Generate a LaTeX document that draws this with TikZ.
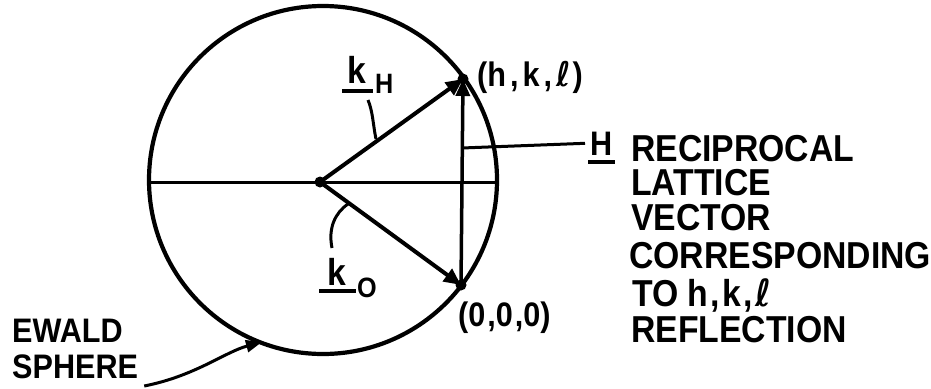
\documentclass[tikz,border=0pt]{standalone}
\usepackage{fontspec}
\setmainfont{Liberation Sans}[FakeStretch=0.9]
\newfontfamily\ellfont{DejaVu Sans}[FakeStretch=0.9]
\usetikzlibrary{arrows.meta}

\begin{document}
\begin{tikzpicture}[x=1pt,y=-1pt,
  lbl/.style={inner sep=0pt, anchor=base west, font=\fontsize{37.5}{37.5}\selectfont\bfseries},
  smlbl/.style={inner sep=0pt, anchor=base west, font=\fontsize{34}{34}\selectfont\bfseries},
  sublbl/.style={inner sep=0pt, anchor=base west, font=\fontsize{28}{28}\selectfont\bfseries},
  vecarrow/.style={line width=4pt, -{Triangle[length=17pt,width=15pt]}},
  harrow/.style={line width=3.5pt, -{Triangle[length=17pt,width=14pt]}},
  leader/.style={line width=3pt},
  uline/.style={line width=3.5pt},
  sphereline/.style={line width=4.2pt},
  dotmark/.style={fill=black}
]
\useasboundingbox (0,0) rectangle (931,388);

% geometry
\coordinate (C) at (323,180);
\coordinate (O) at (320,182);
\coordinate (P) at (463,79);
\coordinate (Q) at (461,285);
\coordinate (L) at (149,182);
\coordinate (R) at (497,182);

% sphere and diameter
\draw[sphereline] (C) circle (174);
\draw[leader] (L) -- (R);

% vectors
\draw[vecarrow] (O) -- (P);
\draw[vecarrow] (O) -- (Q);
\draw[harrow] (Q) -- (P);

\fill[dotmark] (O) circle (5.5);
\fill[dotmark] (P) circle (5.5);
\fill[dotmark] (Q) circle (5.5);

% labels
\node[smlbl] (hkl) at (477,86) {(h\kern4pt,\kern4pt k\kern4pt,\kern4pt{\ellfont ℓ}\kern2pt)};
\node[smlbl] (zero) at (458,326) {(0\kern2pt,0\kern2pt,0)};

\node[lbl] (kH) at (347,83) {k};
\node[sublbl] (kHs) at (375,93) {H};
\draw[uline] ([shift={(-5,8)}]kH.base west) -- ([shift={(7,8)}]kH.base east);

\node[lbl] (k0) at (327,285) {k};
\node[sublbl] (k0s) at (357,297) {O};
\draw[uline] ([shift={(-8,6)}]k0.base west) -- ([shift={(10,6)}]k0.base east);

% leaders
\coordinate (kHa) at (368,100);
\coordinate (kHb) at (376,139);
\draw[leader] (kHa) .. controls (373,112) and (373,125) .. (kHb);
\coordinate (k0a) at (332,248);
\coordinate (k0b) at (348,204);
\draw[leader] (k0a) .. controls (328,228) and (335,213) .. (k0b);

% H label
\node[smlbl] (Hl) at (590,155) {H};
\draw[uline] ([shift={(-2,7)}]Hl.base west) -- ([shift={(2,7)}]Hl.base east);
\coordinate (Hs) at (462,148);
\draw[leader] (Hs) -- ([xshift=-5pt]Hl.west);

\node[lbl] (l1) at (631,161) {RECIPROCAL};
\node[lbl] (l2) at (631,195) {LATTICE};
\node[lbl] (l3) at (631,230) {VECTOR};
\node[lbl] (l4) at (629,268) {CORRESPONDING};
\node[lbl] (l5) at (632,306) {TO h\kern2pt,\kern3pt k\kern2pt,\kern3pt{\ellfont ℓ}};
\node[lbl] (l6) at (631,342) {REFLECTION};

% Ewald sphere label
\node[smlbl] (ewald) at (12,342) {EWALD};
\node[smlbl] (sphere) at (12,378) {SPHERE};
\coordinate (Et) at (262,342);
\draw[leader, -{Triangle[length=16pt,width=12pt]}] ([xshift=6pt,yshift=-8pt]sphere.base east) .. controls (195,376) and (225,352) .. (Et);
\end{tikzpicture}
\end{document}
